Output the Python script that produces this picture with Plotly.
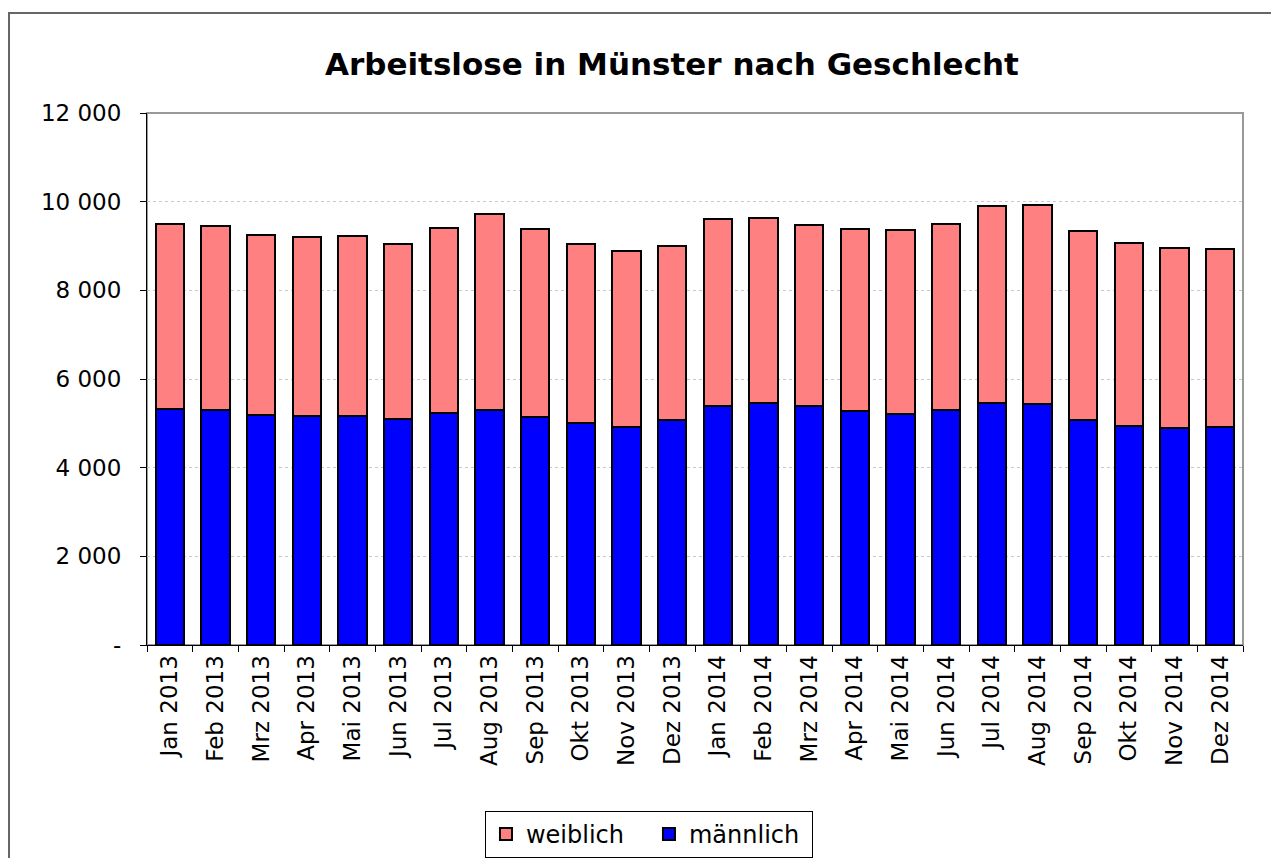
import plotly.graph_objects as go

months = ["Jan 2013", "Feb 2013", "Mrz 2013", "Apr 2013", "Mai 2013", "Jun 2013",
          "Jul 2013", "Aug 2013", "Sep 2013", "Okt 2013", "Nov 2013", "Dez 2013",
          "Jan 2014", "Feb 2014", "Mrz 2014", "Apr 2014", "Mai 2014", "Jun 2014",
          "Jul 2014", "Aug 2014", "Sep 2014", "Okt 2014", "Nov 2014", "Dez 2014"]

maennlich = [5331, 5301, 5180, 5165, 5173, 5090, 5226, 5301, 5150, 5008, 4910, 5068,
             5383, 5466, 5383, 5271, 5211, 5301, 5451, 5429, 5075, 4947, 4902, 4925]

weiblich = [4173, 4150, 4061, 4030, 4045, 3963, 4180, 4421, 4226, 4045, 3985, 3940,
            4226, 4158, 4091, 4105, 4142, 4195, 4444, 4503, 4263, 4128, 4045, 4000]

y_tickvals = [0, 2000, 4000, 6000, 8000, 10000, 12000]
y_ticktext = ["-", "2 000", "4 000", "6 000", "8 000", "10 000", "12 000"]

FONT = "DejaVu Sans"

fig = go.Figure()
fig.add_trace(go.Bar(x=months, y=maennlich, name="männlich",
                     marker=dict(color="#0000FF", line=dict(color="black", width=2))))
fig.add_trace(go.Bar(x=months, y=weiblich, name="weiblich",
                     marker=dict(color="#FF8080", line=dict(color="black", width=2))))

fig.update_layout(
    width=1263, height=850,
    barmode="stack", bargap=0.375,
    paper_bgcolor="white", plot_bgcolor="white",
    margin=dict(l=139, r=28, t=105, b=213, autoexpand=False),
    font=dict(family=FONT, color="black", size=23),
    title=dict(text="<b>Arbeitslose in Münster nach Geschlecht</b>",
               x=0.5257, xanchor="center", y=0.934, yanchor="middle",
               font=dict(family=FONT, size=31, color="black")),
    showlegend=True,
    legend=dict(orientation="h", traceorder="reversed",
                x=0.458, xanchor="center", y=-0.312, yanchor="top",
                bordercolor="black", borderwidth=1, entrywidth=118,
                font=dict(family=FONT, size=24, color="black"),
                itemsizing="constant"),
    xaxis=dict(type="category", tickangle=-90, showline=True, linecolor="black", linewidth=1,
               ticks="outside", tickson="boundaries", ticklen=6, tickcolor="black",
               showgrid=False, automargin=False,
               tickfont=dict(family=FONT, size=23, color="black")),
    yaxis=dict(range=[0, 12000], tickvals=y_tickvals, ticktext=y_ticktext,
               showline=True, linecolor="black", linewidth=1,
               ticks="outside", ticklen=6, tickcolor="black",
               showgrid=True, gridcolor="#c8c8c8", gridwidth=1, griddash="dot",
               zeroline=False, ticklabelstandoff=14, automargin=False,
               tickfont=dict(family=FONT, size=23, color="black")),
    shapes=[
        dict(type="rect", xref="paper", yref="paper", x0=0, x1=1, y0=0, y1=1,
             line=dict(color="#999999", width=2), fillcolor="rgba(0,0,0,0)", layer="below"),
        dict(type="rect", xref="paper", yref="paper", x0=-0.1259, x1=1.2, y0=-0.6, y1=1.188,
             line=dict(color="#666666", width=2), fillcolor="rgba(0,0,0,0)", layer="below"),
    ],
)

fig.write_html("out.html")
